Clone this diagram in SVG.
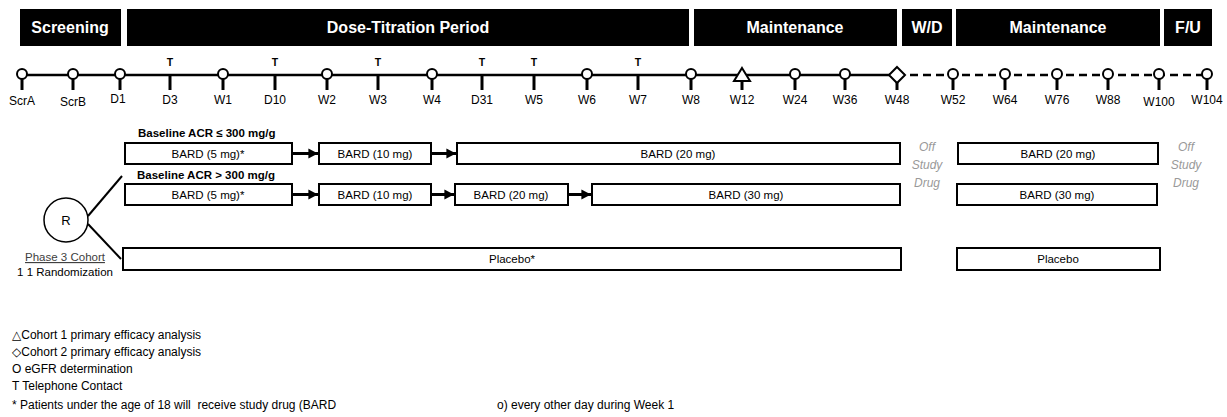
<svg xmlns="http://www.w3.org/2000/svg" width="1227" height="417" viewBox="0 0 1227 417">
<style>
text{font-family:"Liberation Sans","DejaVu Sans",sans-serif;fill:#000}
.hdr{fill:#000}
.ht{font-size:16px;font-weight:bold;fill:#fff;text-anchor:middle}
.tl{font-size:12px;text-anchor:middle}
.tt{font-size:10.5px;font-weight:bold;text-anchor:middle}
.mk{fill:#fff;stroke:#000;stroke-width:2}
.st{stroke:#000;stroke-width:3}
.box{fill:#fff;stroke:#000;stroke-width:2}
.bt{font-size:11.5px;text-anchor:middle}
.lab{font-size:11.5px;font-weight:bold}
.off{font-size:12px;font-style:italic;fill:#999;text-anchor:middle}
.leg{font-size:12px}
.conn{stroke:#000;stroke-width:3;fill:none}
.thin{stroke:#000;stroke-width:2;fill:none}
</style>
<defs>
<marker id="ah" markerWidth="3.4" markerHeight="3.4" refX="3.2" refY="1.7" orient="auto" markerUnits="strokeWidth">
<path d="M0,0 L3.2,1.7 L0,3.4 z" fill="#000"/>
</marker>
</defs>
<rect width="1227" height="417" fill="#fff"/>
<g id="header">
<rect class="hdr" x="20" y="9" width="101" height="37"/>
<text class="ht" x="70" y="33">Screening</text>
<rect class="hdr" x="127" y="9" width="562" height="37"/>
<text class="ht" x="408" y="33">Dose-Titration Period</text>
<rect class="hdr" x="694" y="9" width="203" height="37"/>
<text class="ht" x="795" y="33">Maintenance</text>
<rect class="hdr" x="902" y="9" width="50" height="37"/>
<text class="ht" x="927" y="33">W/D</text>
<rect class="hdr" x="956" y="9" width="204" height="37"/>
<text class="ht" x="1058" y="33">Maintenance</text>
<rect class="hdr" x="1164" y="9" width="48" height="37"/>
<text class="ht" x="1188" y="33">F/U</text>
</g>
<g id="timeline">
<line x1="22" y1="75" x2="897" y2="75" stroke="#000" stroke-width="2.5"/>
<line x1="897" y1="75" x2="1207" y2="75" stroke="#000" stroke-width="2.5" stroke-dasharray="8,5"/>
<g id="stems">
<line class="st" x1="22" y1="78" x2="22" y2="90"/>
<line class="st" x1="73" y1="78" x2="73" y2="90"/>
<line class="st" x1="120" y1="78" x2="120" y2="90"/>
<line class="st" x1="170" y1="75" x2="170" y2="90"/>
<line class="st" x1="223" y1="78" x2="223" y2="90"/>
<line class="st" x1="275" y1="75" x2="275" y2="90"/>
<line class="st" x1="327" y1="78" x2="327" y2="90"/>
<line class="st" x1="378" y1="75" x2="378" y2="90"/>
<line class="st" x1="432" y1="78" x2="432" y2="90"/>
<line class="st" x1="482" y1="75" x2="482" y2="90"/>
<line class="st" x1="534" y1="75" x2="534" y2="90"/>
<line class="st" x1="587" y1="78" x2="587" y2="90"/>
<line class="st" x1="638" y1="75" x2="638" y2="90"/>
<line class="st" x1="691" y1="78" x2="691" y2="90"/>
<line class="st" x1="742" y1="80" x2="742" y2="90"/>
<line class="st" x1="795" y1="78" x2="795" y2="90"/>
<line class="st" x1="845" y1="78" x2="845" y2="90"/>
<line class="st" x1="897" y1="82" x2="897" y2="90"/>
<line class="st" x1="953" y1="78" x2="953" y2="90"/>
<line class="st" x1="1005" y1="78" x2="1005" y2="90"/>
<line class="st" x1="1057" y1="78" x2="1057" y2="90"/>
<line class="st" x1="1108" y1="78" x2="1108" y2="90"/>
<line class="st" x1="1159" y1="78" x2="1159" y2="90"/>
<line class="st" x1="1207" y1="78" x2="1207" y2="90"/>
</g>
<g id="markers">
<circle class="mk" cx="22" cy="74" r="5"/>
<circle class="mk" cx="73" cy="74" r="5"/>
<circle class="mk" cx="120" cy="74" r="5"/>
<circle class="mk" cx="223" cy="74" r="5"/>
<circle class="mk" cx="327" cy="74" r="5"/>
<circle class="mk" cx="432" cy="74" r="5"/>
<circle class="mk" cx="587" cy="74" r="5"/>
<circle class="mk" cx="691" cy="74" r="5"/>
<polygon class="mk" points="742,68 750,81 734,81"/>
<circle class="mk" cx="795" cy="74" r="5"/>
<circle class="mk" cx="845" cy="74" r="5"/>
<polygon class="mk" points="897,67 905,75 897,83 889,75"/>
<circle class="mk" cx="953" cy="74" r="5"/>
<circle class="mk" cx="1005" cy="74" r="5"/>
<circle class="mk" cx="1057" cy="74" r="5"/>
<circle class="mk" cx="1108" cy="74" r="5"/>
<circle class="mk" cx="1159" cy="74" r="5"/>
<circle class="mk" cx="1207" cy="74" r="5"/>
</g>
<g id="t-labels">
<text class="tt" x="170" y="66">T</text>
<text class="tt" x="275" y="66">T</text>
<text class="tt" x="378" y="66">T</text>
<text class="tt" x="482" y="66">T</text>
<text class="tt" x="534" y="66">T</text>
<text class="tt" x="638" y="66">T</text>
</g>
<g id="visit-labels">
<text class="tl" x="22" y="105">ScrA</text>
<text class="tl" x="73" y="106">ScrB</text>
<text class="tl" x="118" y="103">D1</text>
<text class="tl" x="170" y="104">D3</text>
<text class="tl" x="223" y="104">W1</text>
<text class="tl" x="275" y="104">D10</text>
<text class="tl" x="327" y="104">W2</text>
<text class="tl" x="378" y="104">W3</text>
<text class="tl" x="432" y="104">W4</text>
<text class="tl" x="482" y="104">D31</text>
<text class="tl" x="534" y="104">W5</text>
<text class="tl" x="587" y="104">W6</text>
<text class="tl" x="638" y="104">W7</text>
<text class="tl" x="691" y="104">W8</text>
<text class="tl" x="742" y="104">W12</text>
<text class="tl" x="795" y="104">W24</text>
<text class="tl" x="845" y="104">W36</text>
<text class="tl" x="897" y="104">W48</text>
<text class="tl" x="953" y="104">W52</text>
<text class="tl" x="1005" y="104">W64</text>
<text class="tl" x="1057" y="104">W76</text>
<text class="tl" x="1108" y="104">W88</text>
<text class="tl" x="1159" y="106">W100</text>
<text class="tl" x="1207" y="104">W104</text>
</g>
</g>
<g id="labels">
<text class="lab" x="138" y="137">Baseline ACR ≤ 300 mg/g</text>
<text class="lab" x="137" y="179">Baseline ACR &gt; 300 mg/g</text>
</g>
<g id="randomization">
<circle cx="66" cy="220" r="22" fill="#fff" stroke="#000" stroke-width="1.5"/>
<text x="66" y="225" font-size="13" text-anchor="middle">R</text>
<text x="65" y="261" font-size="11.5" text-anchor="middle" text-decoration="underline" style="fill:#404040">Phase 3 Cohort</text>
<text x="65" y="276" font-size="11.5" text-anchor="middle">1 1 Randomization</text>
</g>
<g id="row1">
<g id="r1b1"><rect class="box" x="125" y="143" width="167" height="21"/><text class="bt" x="208" y="158">BARD (5 mg)*</text></g>
<g id="r1b2"><rect class="box" x="319" y="143" width="112" height="21"/><text class="bt" x="375" y="158">BARD (10 mg)</text></g>
<g id="r1b3"><rect class="box" x="457" y="143" width="443" height="21"/><text class="bt" x="678" y="158">BARD (20 mg)</text></g>
<g id="r1b4"><rect class="box" x="958" y="143" width="200" height="21"/><text class="bt" x="1058" y="158">BARD (20 mg)</text></g>
</g>
<g id="row2">
<g id="r2b1"><rect class="box" x="125" y="184" width="167" height="21"/><text class="bt" x="208" y="199">BARD (5 mg)*</text></g>
<g id="r2b2"><rect class="box" x="319" y="184" width="112" height="21"/><text class="bt" x="375" y="199">BARD (10 mg)</text></g>
<g id="r2b3"><rect class="box" x="455" y="184" width="113" height="21"/><text class="bt" x="511" y="199">BARD (20 mg)</text></g>
<g id="r2b4"><rect class="box" x="592" y="184" width="308" height="21"/><text class="bt" x="746" y="199">BARD (30 mg)</text></g>
<g id="r2b5"><rect class="box" x="957" y="184" width="200" height="21"/><text class="bt" x="1057" y="199">BARD (30 mg)</text></g>
</g>
<g id="row3">
<g id="r3b1"><rect class="box" x="123" y="248" width="778" height="22"/><text class="bt" x="512" y="263">Placebo*</text></g>
<g id="r3b2"><rect class="box" x="957" y="248" width="203" height="22"/><text class="bt" x="1058" y="263">Placebo</text></g>
</g>
<g id="off-study">
<text class="off" x="927" y="151">Off</text>
<text class="off" x="927" y="169">Study</text>
<text class="off" x="927" y="187">Drug</text>
<text class="off" x="1186" y="151">Off</text>
<text class="off" x="1186" y="169">Study</text>
<text class="off" x="1186" y="187">Drug</text>
</g>
<g id="connectors">
<line class="thin" x1="88" y1="216" x2="122" y2="176"/>
<line class="thin" x1="88" y1="224" x2="121" y2="259"/>
<line class="conn" x1="292" y1="153.5" x2="318" y2="153.5" marker-end="url(#ah)"/>
<line class="conn" x1="431" y1="153.5" x2="456" y2="153.5" marker-end="url(#ah)"/>
<line class="conn" x1="292" y1="194.5" x2="318" y2="194.5" marker-end="url(#ah)"/>
<line class="conn" x1="431" y1="194.5" x2="454" y2="194.5" marker-end="url(#ah)"/>
<line class="conn" x1="568" y1="194.5" x2="591" y2="194.5" marker-end="url(#ah)"/>
</g>
<g id="legend">
<text class="leg" x="12" y="339">△Cohort 1 primary efficacy analysis</text>
<text class="leg" x="12" y="356">◇Cohort 2 primary efficacy analysis</text>
<text class="leg" x="12" y="373">O eGFR determination</text>
<text class="leg" x="12" y="390">T Telephone Contact</text>
<text class="leg" x="12" y="409" xml:space="preserve">* Patients under the age of 18 will  receive study drug (BARD</text>
<text class="leg" x="497" y="409">o) every other day during Week 1</text>
</g>
</svg>
